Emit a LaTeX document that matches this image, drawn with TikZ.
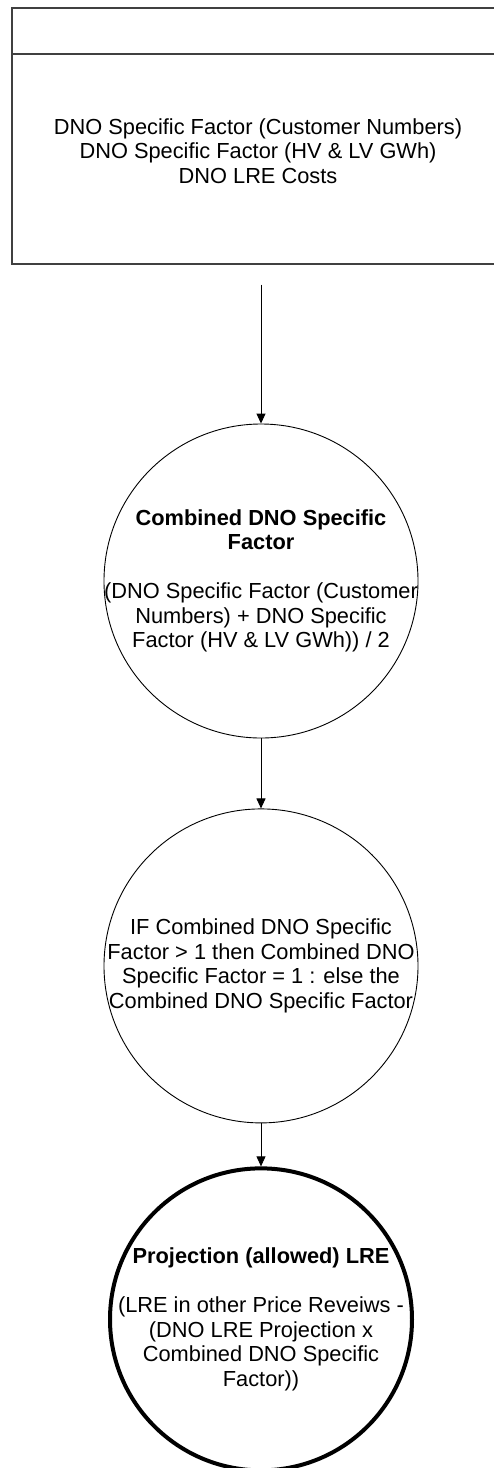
\documentclass[tikz,border=0pt]{standalone}
\usepackage{fontspec}
\setmainfont{Liberation Sans}
\usetikzlibrary{arrows.meta,positioning}
\tikzset{
  databox/.style={
    draw=black!75,
    line width=1.6pt,
    minimum width=494pt,
    minimum height=256pt,
    inner sep=0pt,
    anchor=north west
  },
  calcnode/.style={
    circle,
    draw=black,
    line width=0.9pt,
    minimum size=314pt,
    inner sep=0pt
  },
  resultnode/.style={
    circle,
    draw=black,
    line width=4pt,
    minimum size=302pt,
    inner sep=0pt
  },
  calctext/.style={
    align=center,
    inner sep=0pt,
    font=\fontsize{21.8}{24.5}\selectfont
  },
  flow/.style={
    -{Triangle[length=10pt,width=9pt]},
    line width=0.9pt,
    draw=black
  }
}

\begin{document}
\begin{tikzpicture}[x=1pt,y=-1pt]
\useasboundingbox (0,0) rectangle (493,1468);

% input data
\node[databox] (inputs) at (11,7) {};
\draw[draw=black!75, line width=1.6pt] ([yshift=-47pt]inputs.north west) -- ([yshift=-47pt]inputs.north east);
\node[calctext] (inputlist) at (258,151) {DNO Specific Factor (Customer Numbers)\\
  DNO Specific Factor (HV \& LV GWh)\\
  DNO LRE Costs};

% calculation steps
\node[calcnode] (combined) at (261,581) {};
\node[calctext] (combinedtext) at (combined) {\textbf{Combined DNO Specific}\\
  \textbf{Factor}\\[24.5pt]
  (DNO Specific Factor (Customer\\
  Numbers) + DNO Specific\\
  Factor (HV \& LV GWh)) / 2};

\node[calcnode, below=70pt of combined] (capped) {};
\node[calctext] (cappedtext) at (capped) {IF Combined DNO Specific\\
  Factor > 1 then Combined DNO\\
  Specific Factor = 1 : else the\\
  Combined DNO Specific Factor};

\node[resultnode, below=43pt of capped] (allowed) {};
\node[calctext] (allowedtext) at (allowed) {\textbf{Projection (allowed) LRE}\\[24.5pt]
  (LRE in other Price Reveiws -\\
  (DNO LRE Projection x\\
  Combined DNO Specific\\
  Factor))};

\draw[flow, shorten <=20pt] (inputs.south -| combined.north) -- (combined.north);
\draw[flow] (combined) -- (capped);
\draw[flow] (capped) -- (allowed);
\end{tikzpicture}
\end{document}
